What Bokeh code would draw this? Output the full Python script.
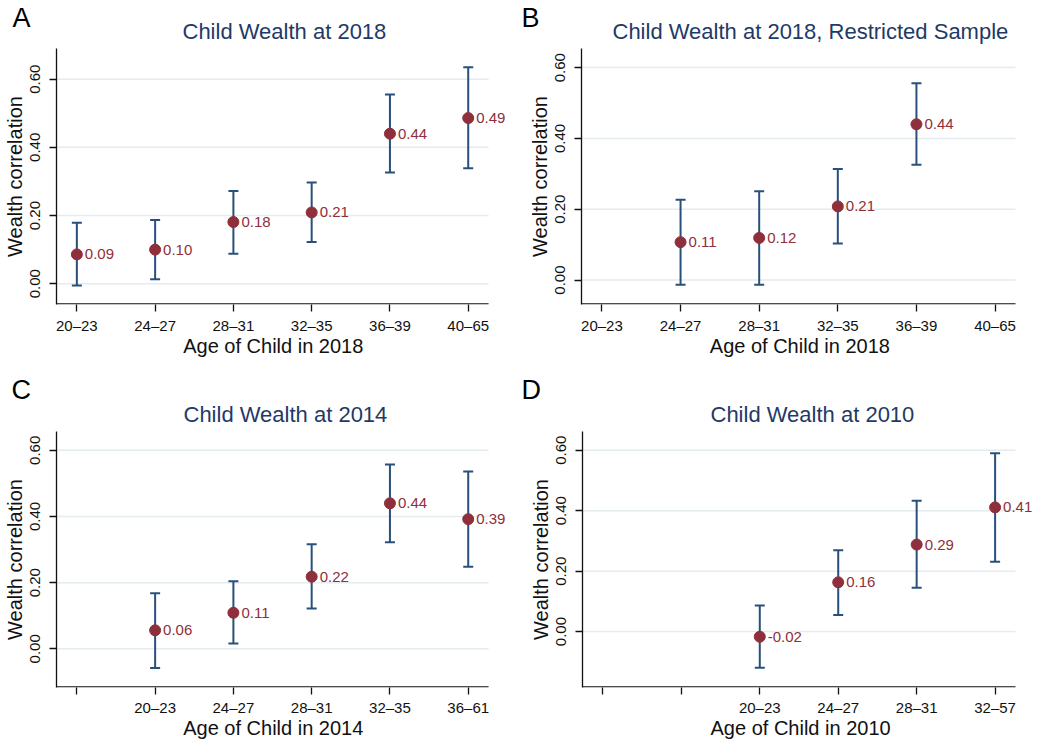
from bokeh.plotting import figure
from bokeh.models import (ColumnDataSource, Whisker, TeeHead, LabelSet, Label,
                          FixedTicker, PrintfTickFormatter, Range1d)
from bokeh.layouts import column, row
from bokeh.core.properties import value
from bokeh.embed import file_html
from bokeh.resources import INLINE

FONT = "Liberation Sans"
MAROON = "#8f2f3b"
NAVY = "#28507b"
TITLE_C = "#1f3a66"
GRID = "#e4ecee"
AXC = "#111111"

# ---------------- data ----------------
ticks_A = ["20–23", "24–27", "28–31", "32–35", "36–39", "40–65"]
pos_A = [0, 1, 2, 3, 4, 5]
est_A = [0.086, 0.100, 0.181, 0.209, 0.440, 0.486]
lo_A = [-0.005, 0.013, 0.088, 0.122, 0.326, 0.339]
hi_A = [0.179, 0.187, 0.272, 0.297, 0.555, 0.635]

ticks_B = ["20–23", "24–27", "28–31", "32–35", "36–39", "40–65"]
pos_B = [1, 2, 3, 4]
est_B = [0.107, 0.119, 0.208, 0.440]
lo_B = [-0.013, -0.013, 0.103, 0.326]
hi_B = [0.227, 0.251, 0.314, 0.556]

ticks_C = ["", "20–23", "24–27", "28–31", "32–35", "36–61"]
pos_C = [1, 2, 3, 4, 5]
est_C = [0.056, 0.109, 0.218, 0.440, 0.392]
lo_C = [-0.058, 0.016, 0.122, 0.322, 0.248]
hi_C = [0.168, 0.204, 0.316, 0.557, 0.536]

ticks_D = ["", "", "20–23", "24–27", "28–31", "32–57"]
pos_D = [2, 3, 4, 5]
est_D = [-0.017, 0.163, 0.288, 0.411]
lo_D = [-0.120, 0.055, 0.145, 0.231]
hi_D = [0.086, 0.269, 0.433, 0.590]

titles = ["Child Wealth at 2018", "Child Wealth at 2018, Restricted Sample",
          "Child Wealth at 2014", "Child Wealth at 2010"]
xlabels = ["Age of Child in 2018", "Age of Child in 2018",
           "Age of Child in 2014", "Age of Child in 2010"]
letters = ["A", "B", "C", "D"]

y_ticks = [0.0, 0.2, 0.4, 0.6]
X0, X1 = -0.26, 5.26   # visible axis extent in category units

LETTER_PX = 27
TITLE_PX = 22
XLAB_PX = 20


def strip(w, h, items):
    """A blank figure that only carries texts: (text, x, baseline, px, colour)."""
    p = figure(width=w, height=h, x_range=Range1d(0, w), y_range=Range1d(h, 0),
               output_backend="svg", toolbar_location=None,
               x_axis_type=None, y_axis_type=None, outline_line_color=None,
               min_border=0, min_border_left=0, min_border_right=0,
               min_border_top=0, min_border_bottom=0)
    for txt, x, base, px, col in items:
        p.add_layout(Label(x=x, y=base - 0.358 * px, text=txt,
                           text_font=FONT, text_font_size=f"{px}px",
                           text_color=col, text_baseline="middle",
                           text_align="left"))
    return p


def panel(ticklabels, pos, est, lo, hi, yr, w, h, bl, bb, axis_w, xstand):
    frame_w = w - bl
    frame_h = h - bb
    x_end = X0 + frame_w * (X1 - X0) / axis_w
    p = figure(width=w, height=h, x_range=Range1d(X0, x_end),
               y_range=Range1d(*yr), output_backend="svg",
               toolbar_location=None, min_border_left=bl,
               min_border_right=0, min_border_top=0, min_border_bottom=bb,
               outline_line_color=None)

    p.xaxis.ticker = FixedTicker(ticks=list(range(len(ticklabels))))
    p.xaxis.major_label_overrides = {i: t for i, t in enumerate(ticklabels)}
    p.yaxis.ticker = FixedTicker(ticks=y_ticks)
    p.yaxis.formatter = PrintfTickFormatter(format="%.2f")
    p.yaxis.major_label_orientation = "vertical"
    p.yaxis.axis_label = "Wealth correlation"
    for ax in p.axis:
        ax.axis_line_color = AXC
        ax.axis_line_width = 1.3
        ax.major_tick_line_color = AXC
        ax.major_tick_line_width = 1.3
        ax.major_tick_out = 7
        ax.major_tick_in = 0
        ax.minor_tick_line_color = None
        ax.major_label_text_font = FONT
        ax.major_label_text_font_size = "15px"
        ax.major_label_text_color = AXC
        ax.axis_label_text_font = FONT
        ax.axis_label_text_font_size = "20px"
        ax.axis_label_text_font_style = "normal"
        ax.axis_label_text_color = AXC
    p.xaxis.axis_line_color = None
    p.xaxis.major_label_standoff = xstand
    p.yaxis.major_label_standoff = 9
    p.yaxis.axis_label_standoff = 2
    p.xgrid.visible = False
    p.ygrid.visible = False

    # light horizontal grid lines, only over the visible axis extent
    p.segment(x0=[X0] * len(y_ticks), y0=y_ticks, x1=[X1] * len(y_ticks),
              y1=y_ticks, line_color=GRID, line_width=1.5, level="underlay")
    # bottom axis line, only over the visible axis extent
    ypx = (yr[1] - yr[0]) / frame_h
    yb = yr[0] + 0.65 * ypx
    p.segment(x0=[X0], y0=[yb], x1=[X1], y1=[yb], line_color=AXC,
              line_width=1.3)

    src = ColumnDataSource(dict(x=pos, y=est, lo=lo, hi=hi,
                                lab=[f"{v:.2f}" for v in est]))
    wk = Whisker(source=src, base="x", upper="hi", lower="lo",
                 line_color=NAVY, line_width=2,
                 upper_head=TeeHead(size=10, line_color=NAVY, line_width=2),
                 lower_head=TeeHead(size=10, line_color=NAVY, line_width=2))
    p.add_layout(wk)
    p.scatter("x", "y", source=src, size=11, fill_color=MAROON,
              line_color=MAROON)
    p.add_layout(LabelSet(x="x", y="y", text="lab", source=src, x_offset=8,
                          y_offset=0, text_baseline="middle",
                          text_font=value(FONT), text_font_size="15px",
                          text_color=MAROON))
    return p


# top strip: panel letters + titles of A and B
hA = strip(519, 48, [(letters[0], 12, 27, LETTER_PX, "#000000"),
                     (titles[0], 182, 39, TITLE_PX, TITLE_C)])
hB = strip(519, 48, [(letters[1], 2, 27, LETTER_PX, "#000000"),
                     (titles[1], 93, 39, TITLE_PX, TITLE_C)])

pA = panel(ticks_A, pos_A, est_A, lo_A, hi_A, (-0.061, 0.69),
           519, 288, 55, 30, 433, 5)
pB = panel(ticks_B, pos_B, est_B, lo_B, hi_B, (-0.069, 0.654),
           519, 288, 62, 30, 434, 5)

# middle strip: x-axis titles of A/B + letters and titles of C/D
hC = strip(519, 95, [(xlabels[0], 182.7, 16.3, XLAB_PX, AXC),
                     (letters[2], 11, 63.3, LETTER_PX, "#000000"),
                     (titles[2], 183, 85.7, TITLE_PX, TITLE_C)])
hD = strip(519, 95, [(xlabels[1], 190.3, 16.3, XLAB_PX, AXC),
                     (letters[3], 2, 63.3, LETTER_PX, "#000000"),
                     (titles[3], 191, 85.7, TITLE_PX, TITLE_C)])

pC = panel(ticks_C, pos_C, est_C, lo_C, hi_C, (-0.117, 0.657),
           519, 287, 55, 28, 433, 4)
pD = panel(ticks_D, pos_D, est_D, lo_D, hi_D, (-0.185, 0.662),
           519, 287, 63, 28, 433, 4)

# bottom strip: x-axis titles of C/D
fC = strip(519, 22, [(xlabels[2], 182.7, 17, XLAB_PX, AXC)])
fD = strip(519, 22, [(xlabels[3], 191, 17, XLAB_PX, AXC)])

layout = column(row(hA, hB), row(pA, pB), row(hC, hD), row(pC, pD),
                row(fC, fD))
open("out.html", "w").write(file_html(layout, INLINE))
